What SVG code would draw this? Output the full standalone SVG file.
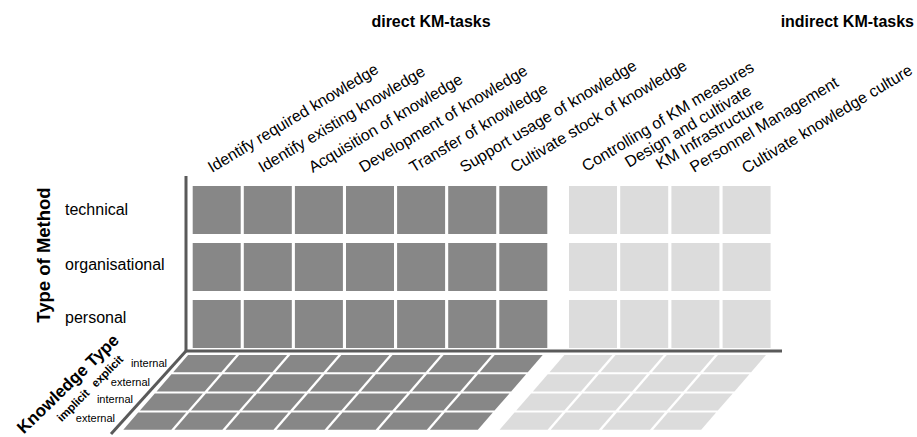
<svg xmlns="http://www.w3.org/2000/svg" width="917" height="437" viewBox="0 0 917 437">
  <style>
    text { font-family: "Liberation Sans", Arial, sans-serif; fill: #000; }
    .title { font-size: 16px; font-weight: bold; }
    .task { font-size: 16px; }
    .row { font-size: 16px; }
    .axis-name { font-weight: bold; }
    .small { font-size: 11px; }
    .dk { fill: #878787; }
    .lt { fill: #dcdcdc; }
    .axis { stroke: #5a5a5a; stroke-width: 3; fill: none; }
  </style>
  <defs>
    <rect id="cell" width="48" height="48"/>
    <rect id="tile" width="48" height="17.2"/>
  </defs>

  <!-- headings -->
  <g id="headings">
    <text class="title" x="431" y="27" text-anchor="middle">direct KM-tasks</text>
    <text class="title" x="914" y="27" text-anchor="end">indirect KM-tasks</text>
  </g>

  <!-- task labels, slanted -->
  <g id="task-labels" class="task">
    <text transform="translate(212,173) rotate(-31)">Identify required knowledge</text>
    <text transform="translate(262.4,173) rotate(-31)">Identify existing knowledge</text>
    <text transform="translate(312.8,173) rotate(-31)">Acquisition of knowledge</text>
    <text transform="translate(363.2,173) rotate(-31)">Development of knowledge</text>
    <text transform="translate(413.6,173) rotate(-31)">Transfer of knowledge</text>
    <text transform="translate(464,173) rotate(-31)">Support usage of knowledge</text>
    <text transform="translate(514.4,173) rotate(-31)">Cultivate stock of knowledge</text>
    <text transform="translate(586,172) rotate(-31)">Controlling of KM measures</text>
    <text transform="translate(629,168) rotate(-31)">Design and cultivate</text>
    <text transform="translate(660,170) rotate(-31)">KM Infrastructure</text>
    <text transform="translate(694,173) rotate(-31)">Personnel Management</text>
    <text transform="translate(746,174) rotate(-31)">Cultivate knowledge culture</text>
  </g>

  <!-- method axis -->
  <g id="method-labels">
    <text class="axis-name" font-size="18.5" transform="translate(50,255) rotate(-90)" text-anchor="middle">Type of Method</text>
    <text class="row" x="65" y="215">technical</text>
    <text class="row" x="65" y="270">organisational</text>
    <text class="row" x="65" y="323">personal</text>
  </g>

  <!-- knowledge axis -->
  <g id="knowledge-labels">
    <text class="axis-name" font-size="17" transform="translate(72,388) rotate(-44)" text-anchor="middle">Knowledge Type</text>
    <text class="axis-name" font-size="11.5" transform="translate(110,374) rotate(-45)" text-anchor="middle">explicit</text>
    <text class="axis-name" font-size="11.5" transform="translate(76,408) rotate(-45)" text-anchor="middle">implicit</text>
    <text class="small" x="167" y="367" text-anchor="end">internal</text>
    <text class="small" x="150" y="386" text-anchor="end">external</text>
    <text class="small" x="133" y="403" text-anchor="end">internal</text>
    <text class="small" x="115" y="421.5" text-anchor="end">external</text>
  </g>

  <!-- upright matrix: direct tasks -->
  <g id="direct-grid" class="dk">
    <g transform="translate(0,186)">
      <use href="#cell" x="192.7"/><use href="#cell" x="243.8"/><use href="#cell" x="294.9"/><use href="#cell" x="346"/><use href="#cell" x="397.1"/><use href="#cell" x="448.2"/><use href="#cell" x="499.3"/>
    </g>
    <g transform="translate(0,243)">
      <use href="#cell" x="192.7"/><use href="#cell" x="243.8"/><use href="#cell" x="294.9"/><use href="#cell" x="346"/><use href="#cell" x="397.1"/><use href="#cell" x="448.2"/><use href="#cell" x="499.3"/>
    </g>
    <g transform="translate(0,300)">
      <use href="#cell" x="192.7"/><use href="#cell" x="243.8"/><use href="#cell" x="294.9"/><use href="#cell" x="346"/><use href="#cell" x="397.1"/><use href="#cell" x="448.2"/><use href="#cell" x="499.3"/>
    </g>
  </g>

  <!-- upright matrix: indirect tasks -->
  <g id="indirect-grid" class="lt">
    <g transform="translate(0,186)">
      <use href="#cell" x="569"/><use href="#cell" x="620.2"/><use href="#cell" x="671.4"/><use href="#cell" x="722.6"/>
    </g>
    <g transform="translate(0,243)">
      <use href="#cell" x="569"/><use href="#cell" x="620.2"/><use href="#cell" x="671.4"/><use href="#cell" x="722.6"/>
    </g>
    <g transform="translate(0,300)">
      <use href="#cell" x="569"/><use href="#cell" x="620.2"/><use href="#cell" x="671.4"/><use href="#cell" x="722.6"/>
    </g>
  </g>

  <!-- floor: knowledge type tiles, sheared -->
  <g id="floor" transform="translate(0,355) skewX(-40.91)">
    <g id="direct-floor" class="dk">
      <g transform="translate(0,0)">
        <use href="#tile" x="188.1"/><use href="#tile" x="239.2"/><use href="#tile" x="290.3"/><use href="#tile" x="341.4"/><use href="#tile" x="392.5"/><use href="#tile" x="443.6"/><use href="#tile" x="494.7"/>
      </g>
      <g transform="translate(0,19.2)">
        <use href="#tile" x="188.1"/><use href="#tile" x="239.2"/><use href="#tile" x="290.3"/><use href="#tile" x="341.4"/><use href="#tile" x="392.5"/><use href="#tile" x="443.6"/><use href="#tile" x="494.7"/>
      </g>
      <g transform="translate(0,38.4)">
        <use href="#tile" x="188.1"/><use href="#tile" x="239.2"/><use href="#tile" x="290.3"/><use href="#tile" x="341.4"/><use href="#tile" x="392.5"/><use href="#tile" x="443.6"/><use href="#tile" x="494.7"/>
      </g>
      <g transform="translate(0,57.6)">
        <use href="#tile" x="188.1"/><use href="#tile" x="239.2"/><use href="#tile" x="290.3"/><use href="#tile" x="341.4"/><use href="#tile" x="392.5"/><use href="#tile" x="443.6"/><use href="#tile" x="494.7"/>
      </g>
    </g>
    <g id="indirect-floor" class="lt">
      <g transform="translate(0,0)">
        <use href="#tile" x="564.4"/><use href="#tile" x="615.6"/><use href="#tile" x="666.8"/><use href="#tile" x="718"/>
      </g>
      <g transform="translate(0,19.2)">
        <use href="#tile" x="564.4"/><use href="#tile" x="615.6"/><use href="#tile" x="666.8"/><use href="#tile" x="718"/>
      </g>
      <g transform="translate(0,38.4)">
        <use href="#tile" x="564.4"/><use href="#tile" x="615.6"/><use href="#tile" x="666.8"/><use href="#tile" x="718"/>
      </g>
      <g transform="translate(0,57.6)">
        <use href="#tile" x="564.4"/><use href="#tile" x="615.6"/><use href="#tile" x="666.8"/><use href="#tile" x="718"/>
      </g>
    </g>
  </g>

  <!-- axes -->
  <g id="axes" class="axis">
    <polyline points="186,176 186,351 782,351"/>
    <line x1="186" y1="351" x2="111" y2="434"/>
  </g>
</svg>
